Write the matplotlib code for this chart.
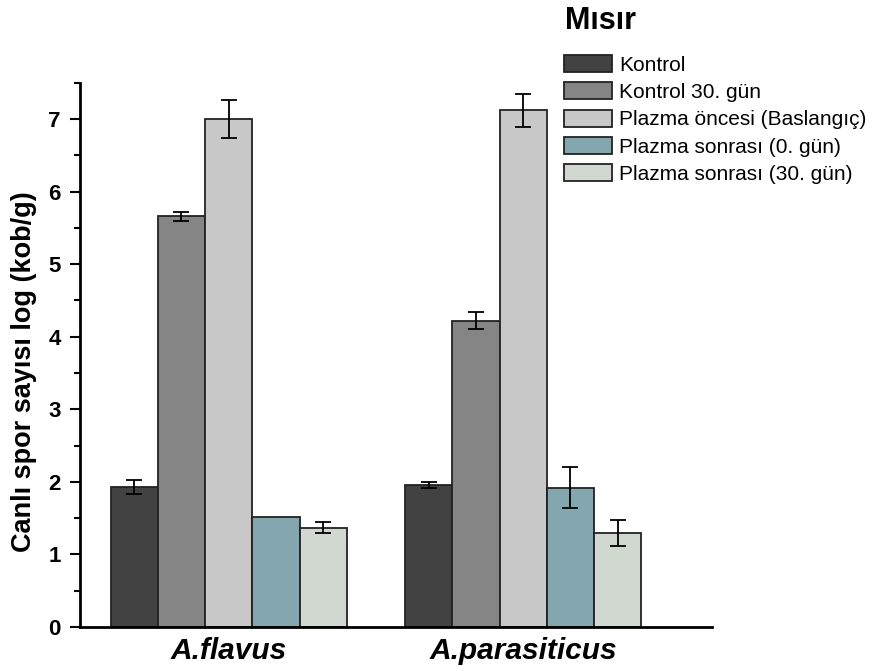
import numpy as np
from matplotlib import pyplot as plt
from matplotlib.ticker import MultipleLocator

plt.rcParams['font.family'] = ['Liberation Sans', 'DejaVu Sans']

groups = ['A.flavus', 'A.parasiticus']
series = ['Kontrol', 'Kontrol 30. gün', 'Plazma öncesi (Baslangıç)',
          'Plazma sonrası (0. gün)', 'Plazma sonrası (30. gün)']
# values per series: [A.flavus, A.parasiticus]
kontrol = [1.93, 1.96]
kontrol_30 = [5.66, 4.22]
plazma_oncesi = [7.00, 7.12]
plazma_sonrasi_0 = [1.52, 1.92]
plazma_sonrasi_30 = [1.37, 1.29]
err_kontrol = [0.10, 0.04]
err_kontrol_30 = [0.06, 0.12]
err_oncesi = [0.26, 0.23]
err_sonrasi_0 = [0.0, 0.28]
err_sonrasi_30 = [0.08, 0.18]

values = [kontrol, kontrol_30, plazma_oncesi, plazma_sonrasi_0, plazma_sonrasi_30]
errors = [err_kontrol, err_kontrol_30, err_oncesi, err_sonrasi_0, err_sonrasi_30]
colors = ['#424242', '#858585', '#c8c8c8', '#84a6ae', '#d0d8d0']

fig = plt.figure(figsize=(8.82, 6.71), dpi=100)
ax = fig.add_axes([80/882, 44/671, 632/882, 544.3/671])

x = np.arange(len(groups))
w = 0.1604
for i in range(len(series)):
  pos = x + (i - 2) * w
  ax.bar(pos, values[i], width=w, color=colors[i], edgecolor='#222222',
         linewidth=1.3, label=series[i], zorder=2)
  yerr = np.array(errors[i])
  mask = yerr > 0
  ax.errorbar(pos[mask], np.array(values[i])[mask], yerr=yerr[mask], fmt='none',
              ecolor='black', elinewidth=1.3, capsize=6, capthick=1.3, zorder=3)

ax.set_xlim(-0.505, 1.641)
ax.set_ylim(0, 7.5)
ax.yaxis.set_major_locator(MultipleLocator(1))
ax.yaxis.set_minor_locator(MultipleLocator(0.5))
ax.set_xticks(x)
ax.set_xticklabels(groups, fontsize=21.5, fontweight='bold', fontstyle='italic')
ax.tick_params(axis='x', length=0, pad=7)
ax.tick_params(axis='y', which='major', length=7, width=1.5, labelsize=16, pad=7)
ax.tick_params(axis='y', which='minor', length=4.5, width=1.5)
for lab in ax.get_yticklabels():
  lab.set_fontweight('bold')
ax.spines['top'].set_visible(False)
ax.spines['right'].set_visible(False)
ax.spines['left'].set_linewidth(2)
ax.spines['bottom'].set_linewidth(2)
ax.set_ylabel('Canlı spor sayısı log (kob/g)', fontsize=19.5, fontweight='bold')
ax.yaxis.set_label_coords(-0.068, 0.47)

fig.text(565/882, 1 - 21/671, 'Mısır', fontsize=22, fontweight='bold', va='center', ha='left')
fig.legend(loc='upper left', bbox_to_anchor=(564/882, 1 - 55/671), frameon=False,
           fontsize=15, handlelength=2.3, handleheight=0.87, handletextpad=0.34,
           labelspacing=0.37, borderpad=0, borderaxespad=0)

plt.savefig('out.png', dpi=100)
